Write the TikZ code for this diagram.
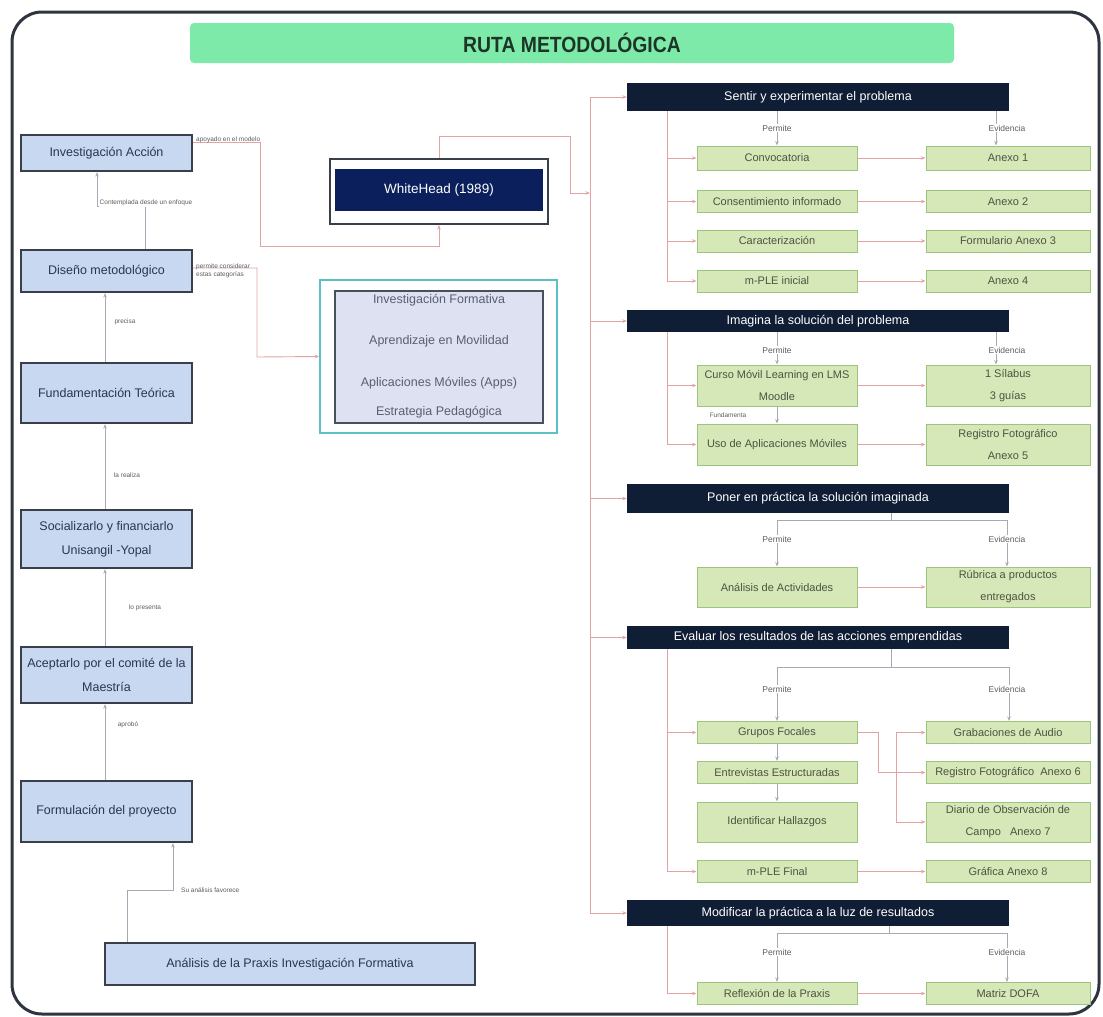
\documentclass[tikz,border=0pt]{standalone}
\usepackage{fontspec}
\usepackage{graphicx}
\setmainfont{Liberation Sans}
\usetikzlibrary{arrows.meta,calc}
\definecolor{cFrame}{HTML}{2F3540}
\definecolor{cTitle}{HTML}{7EEAA9}
\definecolor{cTitleText}{HTML}{1C3526}
\definecolor{cLbf}{HTML}{C8D8F0}
\definecolor{cLbd}{HTML}{3A3F4C}
\definecolor{cLbt}{HTML}{2A3550}
\definecolor{cNavy}{HTML}{0B1F5C}
\definecolor{cTeal}{HTML}{5BC0C8}
\definecolor{cCatf}{HTML}{DDE1F2}
\definecolor{cCatd}{HTML}{4A4F5C}
\definecolor{cCatt}{HTML}{5A5F70}
\definecolor{cHdr}{HTML}{0F1D35}
\definecolor{cGbf}{HTML}{D6E8B8}
\definecolor{cGbd}{HTML}{9CC47C}
\definecolor{cGbt}{HTML}{4B5440}
\definecolor{cRed}{HTML}{E3A3A3}
\definecolor{cGray}{HTML}{A9A9B5}
\definecolor{cTiny}{HTML}{5E5E5E}
\tikzset{
  lbox/.style={draw=cLbd, line width=2.2pt, fill=cLbf, text=cLbt, font=\fontsize{12.5}{24}\selectfont, align=center, inner sep=0pt, minimum width=171pt},
  hbox/.style={fill=cHdr, text=white, font=\fontsize{12.5}{14}\selectfont, inner sep=0pt, minimum width=382pt},
  gbox/.style={draw=cGbd, line width=1pt, fill=cGbf, text=cGbt, font=\fontsize{11}{22}\selectfont, align=center, inner sep=0pt},
  gleft/.style={gbox, minimum width=160pt},
  gright/.style={gbox, minimum width=164pt},
  rl/.style={draw=cRed, line width=0.9pt},
  gyl/.style={draw=cGray, line width=0.9pt},
  ra/.style={-{Stealth[length=4.5pt,width=3.5pt]}},
  tinylab/.style={font=\fontsize{6.5}{7.5}\selectfont, text=cTiny, inner sep=1pt},
  plab/.style={font=\fontsize{8.5}{9.5}\selectfont, text=cTiny, fill=white, inner sep=1pt},
  cattext/.style={font=\fontsize{12.5}{14}\selectfont, text=cCatt, inner sep=0pt}
}
\begin{document}
\begin{tikzpicture}[x=1pt,y=-1pt]
\useasboundingbox (0,0) rectangle (1103,1017);
\fill[white] (0,0) rectangle (1103,1017);
\draw[cFrame, line width=3pt, rounded corners=30pt] (12,12) rectangle (1099,1014);

% title
\node[fill=cTitle, rounded corners=4pt, minimum width=764pt, minimum height=40pt, inner sep=0pt, text=cTitleText] (title) at (572,43)
  {\scalebox{0.88}[1]{\fontsize{22}{24}\selectfont\bfseries RUTA METODOLÓGICA}};

% left column
\node[lbox, minimum height=36pt] (ia) at (106.5,153) {Investigación Acción};
\node[lbox, minimum height=42pt] (dm) at (106.5,271) {Diseño metodológico};
\node[lbox, minimum height=60pt] (ft) at (106.5,393) {Fundamentación Teórica};
\node[lbox, minimum height=58pt] (so) at (106.5,539) {Socializarlo y financiarlo\\Unisangil -Yopal};
\node[lbox, minimum height=56pt] (ac) at (106.5,675) {Aceptarlo por el comité de la\\Maestría};
\node[lbox, minimum height=61pt] (fp) at (106.5,811.5) {Formulación del proyecto};
\node[lbox, minimum width=370pt, minimum height=42pt] (an) at (290,964) {Análisis de la Praxis Investigación Formativa};

% WhiteHead
\node[draw=cLbd, line width=2pt, fill=white, minimum width=218pt, minimum height=65pt, inner sep=0pt] (who) at (439,191.5) {};
\node[fill=cNavy, minimum width=208pt, minimum height=42pt, text=white, font=\fontsize{13.5}{16}\selectfont, inner sep=0pt] (whi) at (439,190) {WhiteHead (1989)};

% categories
\node[draw=cTeal, line width=1.5pt, fill=white, minimum width=237pt, minimum height=153pt, inner sep=0pt] (cato) at (438.5,356.5) {};
\node[draw=cCatd, line width=2pt, fill=cCatf, minimum width=208pt, minimum height=132pt, inner sep=0pt] (cati) at (439,357) {};
\node[cattext] (c1) at (439,300) {Investigación Formativa};
\node[cattext] (c2) at (439,341) {Aprendizaje en Movilidad};
\node[cattext] (c3) at (439,383) {Aplicaciones Móviles (Apps)};
\node[cattext] (c4) at (439,412) {Estrategia Pedagógica};

% left connectors
\coordinate (k1) at (173,890);
\coordinate (k2) at (97,206);
\coordinate (k3) at (260,246);
\coordinate (k4) at (257,357);
\draw[gyl,ra] ([xshift=-163pt]an.north) |- (k1) -- ([xshift=66.5pt]fp.south);
\node[tinylab, anchor=west] (l1) at (180,890) {Su análisis favorece};
\draw[gyl,ra] ([xshift=-1.5pt]fp.north) -- ([xshift=-1.5pt]ac.south);
\node[tinylab] (l2) at (128,725) {aprobó};
\draw[gyl,ra] ([xshift=-1.5pt]ac.north) -- ([xshift=-1.5pt]so.south);
\node[tinylab] (l3) at (145,608) {lo presenta};
\draw[gyl,ra] ([xshift=-1.5pt]so.north) -- ([xshift=-1.5pt]ft.south);
\node[tinylab] (l4) at (127,475) {la realiza};
\draw[gyl,ra] ([xshift=-1.5pt]ft.north) -- ([xshift=-1.5pt]dm.south);
\node[tinylab] (l5) at (125,322) {precisa};
\draw[gyl,ra] ([xshift=38.5pt]dm.north) |- (k2) -- ([xshift=-9.5pt]ia.south);
\node[tinylab, fill=white] (l6) at (146,203) {Contemplada desde un enfoque};
\draw[rl,ra] ([yshift=11pt]ia.east) -| (k3) -| (who.south);
\node[tinylab, anchor=west] (l7) at (195,140) {apoyado en el modelo};
\draw[rl,ra] ([yshift=3pt]dm.east) -| (k4) -- (cato.west);
\node[tinylab, anchor=west, align=left] (l8) at (195,271) {permite considerar\\estas categorías};

% headers
\node[hbox, minimum height=28pt] (h1) at (818,97) {Sentir y experimentar el problema};
\node[hbox, minimum height=22pt] (h2) at (818,321) {Imagina la solución del problema};
\node[hbox, minimum height=29pt] (h3) at (818,498.5) {Poner en práctica la solución imaginada};
\node[hbox, minimum height=23pt] (h4) at (818,637.5) {Evaluar los resultados de las acciones emprendidas};
\node[hbox, minimum height=26pt] (h5) at (818,913) {Modificar la práctica a la luz de resultados};

% green boxes
\node[gleft, minimum height=24pt] (g1) at (777,158) {Convocatoria};
\node[gright, minimum height=24pt] (e1) at (1008,158) {Anexo 1};
\node[gleft, minimum height=22pt] (g2) at (777,201.5) {Consentimiento informado};
\node[gright, minimum height=22pt] (e2) at (1008,201.5) {Anexo 2};
\node[gleft, minimum height=22pt] (g3) at (777,241) {Caracterización};
\node[gright, minimum height=22pt] (e3) at (1008,241) {Formulario Anexo 3};
\node[gleft, minimum height=22pt] (g4) at (777,281) {m-PLE inicial};
\node[gright, minimum height=22pt] (e4) at (1008,281) {Anexo 4};
\node[gleft, minimum height=41pt] (g5) at (777,385.5) {Curso Móvil Learning en LMS\\Moodle};
\node[gright, minimum height=41pt] (e5) at (1008,385.5) {1 Sílabus\\3 guías};
\node[gleft, minimum height=41pt] (g6) at (777,444.5) {Uso de Aplicaciones Móviles};
\node[gright, minimum height=41pt] (e6) at (1008,444.5) {Registro Fotográfico\\Anexo 5};
\node[gleft, minimum height=40pt] (g7) at (777,587) {Análisis de Actividades};
\node[gright, minimum height=40pt] (e7) at (1008,587) {Rúbrica a productos\\entregados};
\node[gleft, minimum height=22pt] (g8) at (777,732.5) {Grupos Focales};
\node[gright, minimum height=22pt] (e8) at (1008,732.5) {Grabaciones de Audio};
\node[gleft, minimum height=22pt] (g9) at (777,772.5) {Entrevistas Estructuradas};
\node[gright, minimum height=22pt] (e9) at (1008,772.5) {Registro Fotográfico\ \ Anexo 6};
\node[gleft, minimum height=40pt] (g10) at (777,822) {Identificar Hallazgos};
\node[gright, minimum height=40pt] (e10) at (1008,822) {Diario de Observación de\\Campo\ \ \ Anexo 7};
\node[gleft, minimum height=22pt] (g11) at (777,871.5) {m-PLE Final};
\node[gright, minimum height=22pt] (e11) at (1008,871.5) {Gráfica Anexo 8};
\node[gleft, minimum height=22pt] (g12) at (777,993.5) {Reflexión de la Praxis};
\node[gright, minimum height=22pt] (e12) at (1008,993.5) {Matriz DOFA};

% trunk
\coordinate (tk1) at (590,97);
\coordinate (tk2) at (590,913);
\coordinate (wj) at (590,193);
\coordinate (wk) at (570,136);
\draw[rl] (tk1) -- (tk2);
\foreach \h in {h1,h2,h3,h4,h5} \draw[rl,ra] (tk1 |- \h.west) -- (\h.west);
\draw[rl,ra] (who.north) |- (wk) |- (wj);

% inner verticals
\coordinate (v1) at (667,0);
\draw[rl] (v1 |- h1.south) -- (v1 |- g4.west);
\foreach \g in {g1,g2,g3,g4} \draw[rl,ra] (v1 |- \g.west) -- (\g.west);
\draw[rl] (v1 |- h2.south) -- (v1 |- g6.west);
\foreach \g in {g5,g6} \draw[rl,ra] (v1 |- \g.west) -- (\g.west);
\draw[rl] (v1 |- h4.south) -- (v1 |- g11.west);
\foreach \g in {g8,g11} \draw[rl,ra] (v1 |- \g.west) -- (\g.west);
\draw[rl] (v1 |- h5.south) -- (v1 |- g12.west);
\draw[rl,ra] (v1 |- g12.west) -- (g12.west);

% permite / evidencia
\coordinate (ev) at (996,0);
\draw[gyl,ra] (h1.south -| g1.north) -- (g1.north);
\draw[gyl,ra] (h1.south -| ev) -- (ev |- e1.north);
\node[plab] (p1) at (777,128) {Permite};
\node[plab] (q1) at (1007,128) {Evidencia};
\draw[gyl,ra] (h2.south -| g5.north) -- (g5.north);
\draw[gyl,ra] (h2.south -| ev) -- (ev |- e5.north);
\node[plab] (p2) at (777,350) {Permite};
\node[plab] (q2) at (1007,350) {Evidencia};

\coordinate (j3) at (891,520);
\draw[gyl] (h3.south -| j3) -- (j3);
\draw[gyl,ra] (j3) -| (g7.north);
\draw[gyl,ra] (j3) -| ([xshift=-1pt]e7.north);
\node[plab] (p3) at (777,539) {Permite};
\node[plab] (q3) at (1007,539) {Evidencia};

\coordinate (j4) at (891,667);
\draw[gyl] (h4.south -| j4) -- (j4);
\draw[gyl,ra] (j4) -| (g8.north);
\draw[gyl,ra] (j4) -| ([xshift=1pt]e8.north);
\node[plab] (p4) at (777,689) {Permite};
\node[plab] (q4) at (1007,689) {Evidencia};

\coordinate (j5) at (889,933);
\draw[gyl] (h5.south -| j5) -- (j5);
\draw[gyl,ra] (j5) -| (g12.north);
\draw[gyl,ra] (j5) -| ([xshift=-1pt]e12.north);
\node[plab] (p5) at (777,952) {Permite};
\node[plab] (q5) at (1007,952) {Evidencia};

% row arrows
\foreach \i in {1,2,3,4,5,6,7,11,12} \draw[rl,ra] (g\i.east) -- (e\i.west);

% vertical chains
\draw[gyl,ra] (g5.south) -- (g6.north);
\node[tinylab] (l9) at (728,415) {Fundamenta};
\draw[gyl,ra] (g8.south) -- (g9.north);
\draw[gyl,ra] (g9.south) -- (g10.north);

% grupos focales branching
\coordinate (j7) at (878,732.5);
\coordinate (j8) at (896,772.5);
\draw[rl,ra] (g8.east) -- (j7) |- (e9.west);
\draw[rl,ra] (j8) |- (e8.west);
\draw[rl,ra] (j8) |- (e10.west);
\end{tikzpicture}
\end{document}
